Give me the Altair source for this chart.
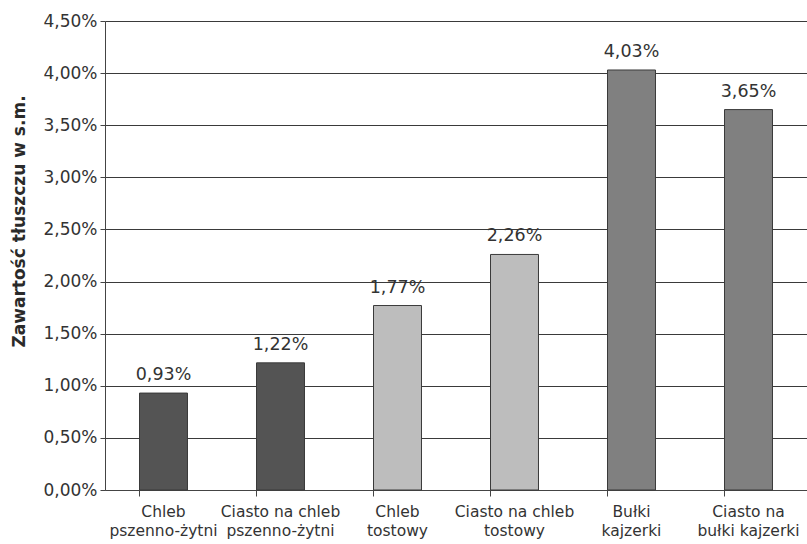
import altair as alt
import pandas as pd

categories = ["Chleb|pszenno-żytni", "Ciasto na chleb|pszenno-żytni", "Chleb|tostowy",
              "Ciasto na chleb|tostowy", "Bułki|kajzerki", "Ciasto na|bułki kajzerki"]
values = [0.0093, 0.0122, 0.0177, 0.0226, 0.0403, 0.0365]
colors = ["#545454", "#545454", "#bdbdbd", "#bdbdbd", "#808080", "#808080"]
y_ticks = [0, 0.005, 0.01, 0.015, 0.02, 0.025, 0.03, 0.035, 0.04, 0.045]

df = pd.DataFrame({"cat": categories, "val": values, "color": colors})
df["label"] = [f"{v*100:.2f}%".replace(".", ",") for v in values]

FONT = "DejaVu Sans"

base = alt.Chart(df).encode(
    x=alt.X("cat:N", sort=categories, title=None,
            scale=alt.Scale(paddingInner=0.59, paddingOuter=0.295),
            axis=alt.Axis(labelExpr="split(datum.label, '|')", labelAngle=0,
                          labelFontSize=15.5, labelColor="#333", labelFont=FONT,
                          labelPadding=8, labelLineHeight=19,
                          bandPosition=0, tickSize=6, tickColor="#444",
                          domainColor="#444", grid=False)),
)

bars = base.mark_bar(stroke="#3a3a3a", strokeWidth=1).encode(
    y=alt.Y("val:Q", scale=alt.Scale(domain=[0, 0.045]),
            title="Zawartość tłuszczu w s.m.",
            axis=alt.Axis(values=y_ticks,
                          labelExpr="replace(format(datum.value, '.2%'), '.', ',')",
                          labelFontSize=17, labelColor="#333", labelFont=FONT,
                          labelPadding=3,
                          titleFont=FONT, titleFontSize=17, titleFontWeight="bold",
                          titleColor="#2a2a2a", titleX=-86, titleY=200,
                          titleAlign="center", titleBaseline="middle",
                          tickSize=5, tickColor="#444", domainColor="#444",
                          gridColor="#3a3a3a", gridWidth=1, gridOpacity=1)),
    color=alt.Color("color:N", scale=None),
)

text = base.mark_text(baseline="alphabetic", dy=-13, fontSize=17.5, font=FONT, color="#333").encode(
    y="val:Q", text="label:N"
)

chart = (bars + text).properties(
    width=702, height=469,
    autosize=alt.AutoSizeParams(type="none"),
    padding={"left": 105, "top": 21, "right": 0, "bottom": 54},
).configure_view(stroke=None).configure(background="white")

chart.save("out.html", embed_options={"renderer": "svg", "actions": False})
